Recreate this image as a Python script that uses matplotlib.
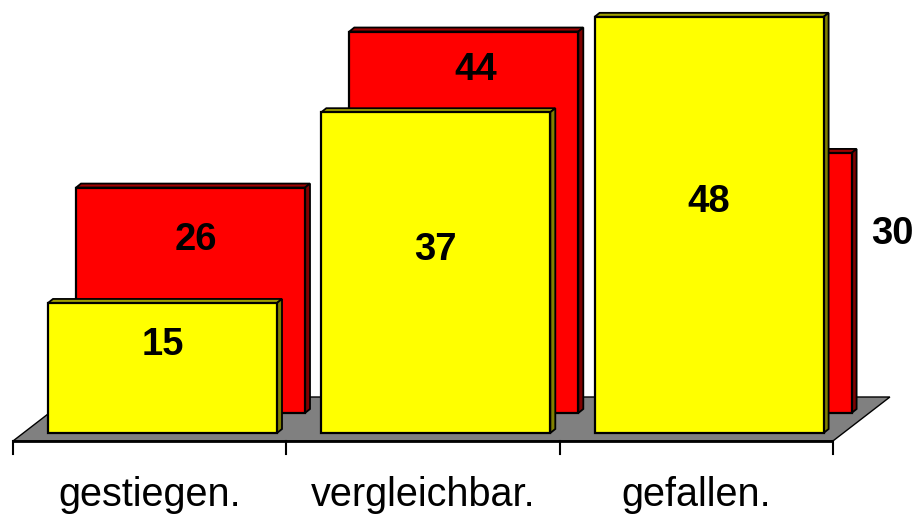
import matplotlib
matplotlib.use("Agg")
import matplotlib.pyplot as plt
from matplotlib.patches import Polygon

# ---- data ----
categories = ["gestiegen.", "vergleichbar.", "gefallen."]
front_values = [15, 37, 48]   # yellow series (front row)
back_values = [26, 44, 30]    # red series (back row)

# ---- layout (pixels of the 919x515 picture) ----
W, H = 919, 515
PX_CAT = 273.3          # pixels per category
PX_VAL = 8.67           # pixels per value unit
X0_PX = 13              # pixel x of category boundary -0.5
Y0_PX = 433             # pixel y (from top) of value 0 for the front row

def dx(px):
    return px / PX_CAT

def dy(px):
    return px / PX_VAL

fig = plt.figure(figsize=(W / 100, H / 100), dpi=100)
ax = fig.add_axes([0, 0, 1, 1])
ax.set_xlim(-0.5 - dx(X0_PX), -0.5 + dx(W - X0_PX))
ax.set_ylim(-dy(H - Y0_PX), dy(Y0_PX))
ax.axis("off")

plt.rcParams["font.family"] = ["Liberation Sans", "DejaVu Sans"]

n = len(categories)
bar_off = dx(35)       # left offset of bar inside category slot
bar_w = dx(229)        # bar width
row_dx, row_dy = dx(28), dy(20)   # back row shift
d_x, d_y = dx(5), dy(4)           # bar thickness (3D depth)
floor_y = -dy(8)
floor_dx, floor_dy = dx(57), dy(44)
half_cap = dy(13.5)   # half of digit height, for baseline placement

# floor
floor = Polygon([(-0.5, floor_y), (n - 0.5, floor_y),
                 (n - 0.5 + floor_dx, floor_y + floor_dy),
                 (-0.5 + floor_dx, floor_y + floor_dy)],
                closed=True, facecolor="#808080", edgecolor="black", lw=1.0, zorder=1)
ax.add_patch(floor)


def bar3d(x0, y0, w, h, face, top, side, z):
    x1, y1 = x0 + w, y0 + h
    ax.add_patch(Polygon([(x0, y1), (x1, y1), (x1 + d_x, y1 + d_y), (x0 + d_x, y1 + d_y)],
                         closed=True, facecolor=top, edgecolor="black", lw=1.3, zorder=z))
    ax.add_patch(Polygon([(x1, y0), (x1 + d_x, y0 + d_y), (x1 + d_x, y1 + d_y), (x1, y1)],
                         closed=True, facecolor=side, edgecolor="black", lw=1.3, zorder=z))
    ax.add_patch(Polygon([(x0, y0), (x1, y0), (x1, y1), (x0, y1)],
                         closed=True, facecolor=face, edgecolor="black", lw=1.6, zorder=z))


# back row (red)
for i, v in enumerate(back_values):
    x0 = i - 0.5 + bar_off + row_dx
    bar3d(x0, row_dy, bar_w, v, "#FF0000", "#A00000", "#800000", 2 + i * 0.1)

# front row (yellow)
for i, v in enumerate(front_values):
    x0 = i - 0.5 + bar_off
    bar3d(x0, 0, bar_w, v, "#FFFF00", "#A0A000", "#808000", 3 + i * 0.1)

# axis line and ticks
ax.plot([-0.5, n - 0.5], [floor_y, floor_y], color="black", lw=2.0, zorder=4,
        solid_capstyle="butt")
for k in range(n + 1):
    ax.plot([k - 0.5, k - 0.5], [floor_y, floor_y - dy(13)], color="black", lw=1.5, zorder=4)

# category labels
for i, c in enumerate(categories):
    ax.text(i, -dy(506 - Y0_PX), c, ha="center", va="baseline", fontsize=28.5,
            color="black", zorder=5)

# value labels
for i, v in enumerate(front_values):
    ax.text(i - 0.5 + bar_off + bar_w / 2, v / 2 + 3.0 - half_cap, str(v),
            ha="center", va="baseline", fontsize=27.5, fontweight="bold", zorder=6)

back_label_px = [(196, 236), (476, 66), (892, 230)]
for (px, py), v in zip(back_label_px, back_values):
    ax.text(-0.5 + dx(px - X0_PX), dy(Y0_PX - py) - half_cap, str(v), ha="center",
            va="baseline", fontsize=27.5, fontweight="bold", zorder=6)

fig.savefig("out.png", dpi=100)
